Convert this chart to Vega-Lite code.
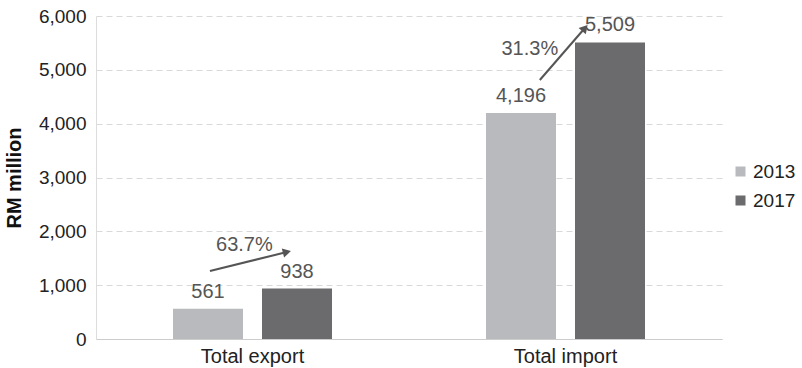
{
  "$schema": "https://vega.github.io/schema/vega-lite/v6.json",
  "width": 626,
  "height": 323,
  "autosize": {"type": "none"},
  "padding": {"left": 96, "top": 16, "right": 80, "bottom": 29},
  "background": "white",
  "config": {"font": "Liberation Sans", "view": {"stroke": null}},
  "datasets": {
    "bars": [
      {"category": "Total export", "year": "2013", "value": 561},
      {"category": "Total export", "year": "2017", "value": 938},
      {"category": "Total import", "year": "2013", "value": 4196},
      {"category": "Total import", "year": "2017", "value": 5509}
    ],
    "arrows": [
      {"arrow": "export", "x1": 0.182, "y1": 1263, "x2": 0.305, "y2": 1616, "label": "63.7%", "lx": 0.237, "ly": 1746},
      {"arrow": "import", "x1": 0.709, "y1": 4811, "x2": 0.781, "y2": 5777, "label": "31.3%", "lx": 0.693, "ly": 5387}
    ]
  },
  "layer": [
    {
      "data": {"name": "bars"},
      "encoding": {
        "x": {"field": "category", "type": "nominal", "scale": {"paddingInner": 0, "paddingOuter": 0},
          "axis": {"title": null, "labelAngle": 0, "labelFontSize": 20, "labelColor": "#222", "ticks": false, "labelPadding": 7, "domainColor": "#cccccc", "grid": false}},
        "xOffset": {"field": "year", "type": "nominal", "scale": {"paddingInner": 0.2135, "paddingOuter": 0.865}},
        "y": {"field": "value", "type": "quantitative", "scale": {"domain": [0, 6000], "nice": false},
          "axis": {"values": [0, 1000, 2000, 3000, 4000, 5000, 6000], "format": ",.0f", "title": "RM million", "titleFontSize": 20, "titleFontWeight": "bold", "titleColor": "#111", "titlePadding": 14, "labelFontSize": 19, "labelColor": "#222", "ticks": false, "labelPadding": 10, "domainColor": "#dddddd", "gridColor": "#d9d9d9", "gridDash": [6, 4]}}
      },
      "layer": [
        {
          "mark": {"type": "bar"},
          "encoding": {
            "color": {"field": "year", "type": "nominal", "scale": {"domain": ["2013", "2017"], "range": ["#b9babd", "#6b6b6d"]},
              "legend": {"title": null, "orient": "none", "legendX": 635, "legendY": 146, "labelFontSize": 19, "labelColor": "#222", "symbolType": "square", "symbolSize": 100, "symbolStrokeWidth": 0, "rowPadding": 9, "labelOffset": 3}}
          }
        },
        {
          "mark": {"type": "text", "baseline": "alphabetic", "dy": -11, "fontSize": 20, "color": "#555555"},
          "encoding": {
            "text": {"field": "value", "type": "quantitative", "format": ","}
          }
        }
      ]
    },
    {
      "data": {"name": "arrows"},
      "layer": [
        {
          "mark": {"type": "rule", "strokeWidth": 2, "color": "#555555"},
          "encoding": {
            "x": {"field": "x1", "type": "quantitative", "scale": {"domain": [0, 1], "nice": false, "zero": false}, "axis": null},
            "y": {"field": "y1", "type": "quantitative", "axis": null},
            "x2": {"field": "x2"},
            "y2": {"field": "y2"}
          }
        },
        {
          "transform": [{"filter": "datum.arrow === 'export'"}],
          "mark": {"type": "point", "shape": "triangle-up", "filled": true, "size": 90, "angle": 76, "color": "#555555", "opacity": 1},
          "encoding": {
            "x": {"field": "x2", "type": "quantitative", "axis": null},
            "y": {"field": "y2", "type": "quantitative", "axis": null}
          }
        },
        {
          "transform": [{"filter": "datum.arrow === 'import'"}],
          "mark": {"type": "point", "shape": "triangle-up", "filled": true, "size": 90, "angle": 41, "color": "#555555", "opacity": 1},
          "encoding": {
            "x": {"field": "x2", "type": "quantitative", "axis": null},
            "y": {"field": "y2", "type": "quantitative", "axis": null}
          }
        },
        {
          "mark": {"type": "text", "fontSize": 20, "color": "#555555", "baseline": "middle", "align": "center"},
          "encoding": {
            "x": {"field": "lx", "type": "quantitative", "axis": null},
            "y": {"field": "ly", "type": "quantitative", "axis": null},
            "text": {"field": "label"}
          }
        }
      ]
    }
  ],
  "resolve": {"scale": {"x": "independent"}, "axis": {"x": "independent", "y": "independent"}}
}
